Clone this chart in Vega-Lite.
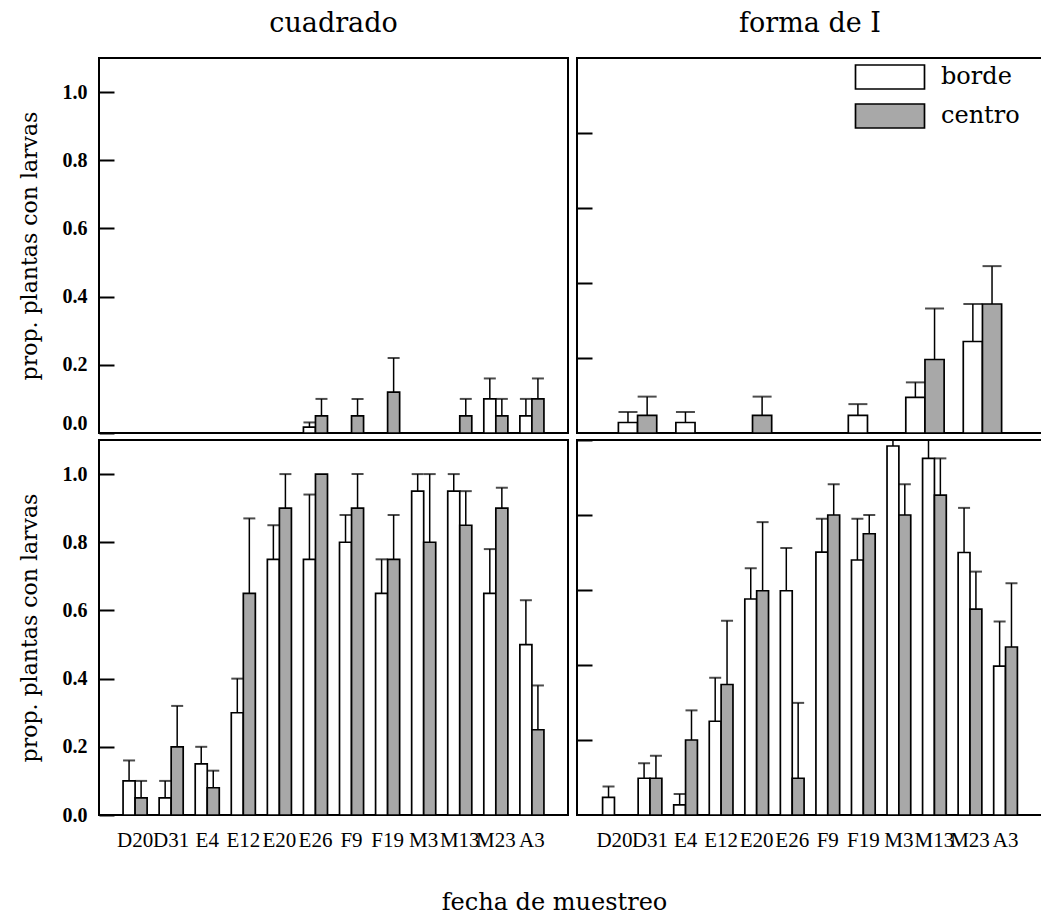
{
  "$schema": "https://vega.github.io/schema/vega-lite/v6.json",
  "background": "white",
  "padding": {"left": 17, "top": 9, "right": 0, "bottom": 0},
  "config": {
    "view": {"stroke": "black", "strokeWidth": 2},
    "font": "DejaVu Serif",
    "axis": {"domain": false, "grid": false, "labelColor": "black", "titleColor": "black", "tickColor": "black"}
  },
  "title": {"text": "fecha de muestreo", "orient": "bottom", "anchor": "middle", "font": "DejaVu Serif", "fontSize": 24, "fontWeight": "normal", "color": "black", "offset": 40, "dx": 24},
  "datasets": {
    "d": [
      {"forma": "cuadrado", "fila": "a", "fecha": "E26", "tipo": "borde", "prop": 0.017, "sup": 0.031},
      {"forma": "cuadrado", "fila": "a", "fecha": "E26", "tipo": "centro", "prop": 0.05, "sup": 0.10},
      {"forma": "cuadrado", "fila": "a", "fecha": "F9", "tipo": "centro", "prop": 0.05, "sup": 0.10},
      {"forma": "cuadrado", "fila": "a", "fecha": "F19", "tipo": "centro", "prop": 0.12, "sup": 0.22},
      {"forma": "cuadrado", "fila": "a", "fecha": "M13", "tipo": "centro", "prop": 0.05, "sup": 0.10},
      {"forma": "cuadrado", "fila": "a", "fecha": "M23", "tipo": "borde", "prop": 0.10, "sup": 0.16},
      {"forma": "cuadrado", "fila": "a", "fecha": "M23", "tipo": "centro", "prop": 0.05, "sup": 0.10},
      {"forma": "cuadrado", "fila": "a", "fecha": "A3", "tipo": "borde", "prop": 0.05, "sup": 0.10},
      {"forma": "cuadrado", "fila": "a", "fecha": "A3", "tipo": "centro", "prop": 0.10, "sup": 0.16},

      {"forma": "forma de I", "fila": "a", "fecha": "1", "tipo": "borde", "prop": 0.028, "sup": 0.056},
      {"forma": "forma de I", "fila": "a", "fecha": "1", "tipo": "centro", "prop": 0.047, "sup": 0.097},
      {"forma": "forma de I", "fila": "a", "fecha": "2", "tipo": "borde", "prop": 0.028, "sup": 0.056},
      {"forma": "forma de I", "fila": "a", "fecha": "3", "tipo": "centro", "prop": 0.047, "sup": 0.097},
      {"forma": "forma de I", "fila": "a", "fecha": "5", "tipo": "borde", "prop": 0.047, "sup": 0.077},
      {"forma": "forma de I", "fila": "a", "fecha": "6", "tipo": "borde", "prop": 0.095, "sup": 0.135},
      {"forma": "forma de I", "fila": "a", "fecha": "6", "tipo": "centro", "prop": 0.196, "sup": 0.332},
      {"forma": "forma de I", "fila": "a", "fecha": "7", "tipo": "borde", "prop": 0.244, "sup": 0.344},
      {"forma": "forma de I", "fila": "a", "fecha": "7", "tipo": "centro", "prop": 0.344, "sup": 0.445},

      {"forma": "cuadrado", "fila": "b", "fecha": "D20", "tipo": "borde", "prop": 0.10, "sup": 0.16},
      {"forma": "cuadrado", "fila": "b", "fecha": "D20", "tipo": "centro", "prop": 0.05, "sup": 0.10},
      {"forma": "cuadrado", "fila": "b", "fecha": "D31", "tipo": "borde", "prop": 0.05, "sup": 0.10},
      {"forma": "cuadrado", "fila": "b", "fecha": "D31", "tipo": "centro", "prop": 0.20, "sup": 0.32},
      {"forma": "cuadrado", "fila": "b", "fecha": "E4", "tipo": "borde", "prop": 0.15, "sup": 0.20},
      {"forma": "cuadrado", "fila": "b", "fecha": "E4", "tipo": "centro", "prop": 0.08, "sup": 0.13},
      {"forma": "cuadrado", "fila": "b", "fecha": "E12", "tipo": "borde", "prop": 0.30, "sup": 0.40},
      {"forma": "cuadrado", "fila": "b", "fecha": "E12", "tipo": "centro", "prop": 0.65, "sup": 0.87},
      {"forma": "cuadrado", "fila": "b", "fecha": "E20", "tipo": "borde", "prop": 0.75, "sup": 0.85},
      {"forma": "cuadrado", "fila": "b", "fecha": "E20", "tipo": "centro", "prop": 0.90, "sup": 1.0},
      {"forma": "cuadrado", "fila": "b", "fecha": "E26", "tipo": "borde", "prop": 0.75, "sup": 0.94},
      {"forma": "cuadrado", "fila": "b", "fecha": "E26", "tipo": "centro", "prop": 1.0, "sup": null},
      {"forma": "cuadrado", "fila": "b", "fecha": "F9", "tipo": "borde", "prop": 0.80, "sup": 0.88},
      {"forma": "cuadrado", "fila": "b", "fecha": "F9", "tipo": "centro", "prop": 0.90, "sup": 1.0},
      {"forma": "cuadrado", "fila": "b", "fecha": "F19", "tipo": "borde", "prop": 0.65, "sup": 0.75},
      {"forma": "cuadrado", "fila": "b", "fecha": "F19", "tipo": "centro", "prop": 0.75, "sup": 0.88},
      {"forma": "cuadrado", "fila": "b", "fecha": "M3", "tipo": "borde", "prop": 0.95, "sup": 1.0},
      {"forma": "cuadrado", "fila": "b", "fecha": "M3", "tipo": "centro", "prop": 0.80, "sup": 1.0},
      {"forma": "cuadrado", "fila": "b", "fecha": "M13", "tipo": "borde", "prop": 0.95, "sup": 1.0},
      {"forma": "cuadrado", "fila": "b", "fecha": "M13", "tipo": "centro", "prop": 0.85, "sup": 0.95},
      {"forma": "cuadrado", "fila": "b", "fecha": "M23", "tipo": "borde", "prop": 0.65, "sup": 0.78},
      {"forma": "cuadrado", "fila": "b", "fecha": "M23", "tipo": "centro", "prop": 0.90, "sup": 0.96},
      {"forma": "cuadrado", "fila": "b", "fecha": "A3", "tipo": "borde", "prop": 0.50, "sup": 0.63},
      {"forma": "cuadrado", "fila": "b", "fecha": "A3", "tipo": "centro", "prop": 0.25, "sup": 0.38},

      {"forma": "forma de I", "fila": "b", "fecha": "D20", "tipo": "borde", "prop": 0.047, "sup": 0.076},
      {"forma": "forma de I", "fila": "b", "fecha": "D31", "tipo": "borde", "prop": 0.098, "sup": 0.138},
      {"forma": "forma de I", "fila": "b", "fecha": "D31", "tipo": "centro", "prop": 0.098, "sup": 0.158},
      {"forma": "forma de I", "fila": "b", "fecha": "E4", "tipo": "borde", "prop": 0.027, "sup": 0.056},
      {"forma": "forma de I", "fila": "b", "fecha": "E4", "tipo": "centro", "prop": 0.20, "sup": 0.279},
      {"forma": "forma de I", "fila": "b", "fecha": "E12", "tipo": "borde", "prop": 0.25, "sup": 0.366},
      {"forma": "forma de I", "fila": "b", "fecha": "E12", "tipo": "centro", "prop": 0.348, "sup": 0.518},
      {"forma": "forma de I", "fila": "b", "fecha": "E20", "tipo": "borde", "prop": 0.576, "sup": 0.658},
      {"forma": "forma de I", "fila": "b", "fecha": "E20", "tipo": "centro", "prop": 0.598, "sup": 0.781},
      {"forma": "forma de I", "fila": "b", "fecha": "E26", "tipo": "borde", "prop": 0.598, "sup": 0.712},
      {"forma": "forma de I", "fila": "b", "fecha": "E26", "tipo": "centro", "prop": 0.098, "sup": 0.299},
      {"forma": "forma de I", "fila": "b", "fecha": "F9", "tipo": "borde", "prop": 0.701, "sup": 0.79},
      {"forma": "forma de I", "fila": "b", "fecha": "F9", "tipo": "centro", "prop": 0.80, "sup": 0.882},
      {"forma": "forma de I", "fila": "b", "fecha": "F19", "tipo": "borde", "prop": 0.68, "sup": 0.79},
      {"forma": "forma de I", "fila": "b", "fecha": "F19", "tipo": "centro", "prop": 0.75, "sup": 0.80},
      {"forma": "forma de I", "fila": "b", "fecha": "M3", "tipo": "borde", "prop": 0.984, "sup": 1.0},
      {"forma": "forma de I", "fila": "b", "fecha": "M3", "tipo": "centro", "prop": 0.80, "sup": 0.882},
      {"forma": "forma de I", "fila": "b", "fecha": "M13", "tipo": "borde", "prop": 0.951, "sup": 1.0},
      {"forma": "forma de I", "fila": "b", "fecha": "M13", "tipo": "centro", "prop": 0.853, "sup": 0.951},
      {"forma": "forma de I", "fila": "b", "fecha": "M23", "tipo": "borde", "prop": 0.70, "sup": 0.819},
      {"forma": "forma de I", "fila": "b", "fecha": "M23", "tipo": "centro", "prop": 0.549, "sup": 0.649},
      {"forma": "forma de I", "fila": "b", "fecha": "A3", "tipo": "borde", "prop": 0.397, "sup": 0.516},
      {"forma": "forma de I", "fila": "b", "fecha": "A3", "tipo": "centro", "prop": 0.448, "sup": 0.618}
    ]
  },
  "spacing": 3,
  "resolve": {"scale": {"x": "independent", "y": "independent", "xOffset": "independent", "fill": "independent"}, "axis": {"x": "independent", "y": "independent"}, "legend": {"fill": "independent"}},
  "vconcat": [
    {
      "spacing": 9,
      "bounds": "flush",
      "resolve": {"scale": {"x": "independent", "y": "independent", "xOffset": "independent", "fill": "independent"}, "axis": {"x": "independent", "y": "independent"}, "legend": {"fill": "independent"}},
      "hconcat": [
        {
          "width": 469, "height": 375,
          "title": {"text": "cuadrado", "font": "DejaVu Serif", "fontSize": 27, "fontWeight": "normal", "color": "black", "offset": 20},
          "data": {"name": "d"},
          "transform": [{"filter": "datum.forma == 'cuadrado' && datum.fila == 'a'"}],
          "encoding": {
            "x": {"field": "fecha", "type": "nominal", "sort": ["D20","D31","E4","E12","E20","E26","F9","F19","M3","M13","M23","A3"], "scale": {"domain": ["D20","D31","E4","E12","E20","E26","F9","F19","M3","M13","M23","A3"], "paddingInner": 0.333, "paddingOuter": 0.667}, "axis": null},
            "xOffset": {"field": "tipo", "type": "nominal", "scale": {"domain": ["borde","centro"], "paddingInner": 0, "paddingOuter": 0}}
          },
          "layer": [
            {
              "mark": {"type": "bar", "stroke": "black", "strokeWidth": 1.7},
              "encoding": {
                "y": {"field": "prop", "type": "quantitative", "scale": {"domain": [0, 1.1], "nice": false}, "axis": {"values": [0,0.2,0.4,0.6,0.8,1.0], "format": ".1f", "tickSize": -15, "tickWidth": 2, "labelFont": "Liberation Serif", "labelFontSize": 20, "labelFontWeight": "bold", "labelPadding": 27, "labelFlush": true, "labelBound": false, "title": "prop. plantas con larvas", "titleFont": "DejaVu Serif", "titleFontSize": 22, "titleFontWeight": "normal", "titlePadding": 21}},
                "fill": {"field": "tipo", "type": "nominal", "scale": {"domain": ["borde","centro"], "range": ["white", "#a8a8a8"]}, "legend": null}
              }
            },
            {
              "transform": [{"filter": "datum.sup != null"}],
              "mark": {"type": "rule", "color": "black", "strokeWidth": 1.5},
              "encoding": {"y": {"field": "prop", "type": "quantitative"}, "y2": {"field": "sup"}}
            },
            {
              "transform": [{"filter": "datum.sup != null"}],
              "mark": {"type": "tick", "color": "black", "thickness": 2, "size": 12, "orient": "horizontal"},
              "encoding": {"y": {"field": "sup", "type": "quantitative"}}
            }
          ]
        },
        {
          "width": 466, "height": 375,
          "title": {"text": "forma de I", "font": "DejaVu Serif", "fontSize": 27, "fontWeight": "normal", "color": "black", "offset": 20},
          "data": {"name": "d"},
          "transform": [{"filter": "datum.forma == 'forma de I' && datum.fila == 'a'"}],
          "encoding": {
            "x": {"field": "fecha", "type": "nominal", "sort": ["1","2","3","4","5","6","7"], "scale": {"domain": ["1","2","3","4","5","6","7"], "paddingInner": 0.333, "paddingOuter": 0.72}, "axis": null},
            "xOffset": {"field": "tipo", "type": "nominal", "scale": {"domain": ["borde","centro"], "paddingInner": 0, "paddingOuter": 0}}
          },
          "layer": [
            {
              "mark": {"type": "bar", "stroke": "black", "strokeWidth": 1.7},
              "encoding": {
                "y": {"field": "prop", "type": "quantitative", "scale": {"domain": [0, 1.0], "nice": false}, "axis": {"values": [0.2,0.4,0.6,0.8], "labels": false, "tickSize": -15, "tickWidth": 2, "title": null}},
                "fill": {"field": "tipo", "type": "nominal", "scale": {"domain": ["borde","centro"], "range": ["white", "#a8a8a8"]}, "legend": {"orient": "none", "legendX": 294, "legendY": 0, "title": null, "padding": 0, "symbolType": "M-1.9167,-0.6667L1.9167,-0.6667L1.9167,0.6667L-1.9167,0.6667Z", "symbolSize": 1296, "symbolStrokeColor": "black", "symbolStrokeWidth": 1.7, "symbolOffset": 0, "labelFont": "DejaVu Serif", "labelFontSize": 24, "labelColor": "black", "labelOffset": 32, "rowPadding": 4}}
              }
            },
            {
              "transform": [{"filter": "datum.sup != null"}],
              "mark": {"type": "rule", "color": "black", "strokeWidth": 1.5},
              "encoding": {"y": {"field": "prop", "type": "quantitative"}, "y2": {"field": "sup"}}
            },
            {
              "transform": [{"filter": "datum.sup != null"}],
              "mark": {"type": "tick", "color": "black", "thickness": 2, "size": 19, "orient": "horizontal"},
              "encoding": {"y": {"field": "sup", "type": "quantitative"}}
            }
          ]
        }
      ]
    },
    {
      "spacing": 9,
      "bounds": "flush",
      "resolve": {"scale": {"x": "independent", "y": "independent", "xOffset": "independent", "fill": "independent"}, "axis": {"x": "independent", "y": "independent"}, "legend": {"fill": "independent"}},
      "hconcat": [
        {
          "width": 469, "height": 375,
          "data": {"name": "d"},
          "transform": [{"filter": "datum.forma == 'cuadrado' && datum.fila == 'b'"}],
          "encoding": {
            "x": {"field": "fecha", "type": "nominal", "sort": ["D20","D31","E4","E12","E20","E26","F9","F19","M3","M13","M23","A3"], "scale": {"domain": ["D20","D31","E4","E12","E20","E26","F9","F19","M3","M13","M23","A3"], "paddingInner": 0.333, "paddingOuter": 0.667}, "axis": {"title": null, "ticks": false, "labelAngle": 0, "labelFont": "Liberation Serif", "labelFontSize": 21, "labelPadding": 14, "labelOverlap": false, "labelBound": false, "labelLimit": 0}},
            "xOffset": {"field": "tipo", "type": "nominal", "scale": {"domain": ["borde","centro"], "paddingInner": 0, "paddingOuter": 0}}
          },
          "layer": [
            {
              "mark": {"type": "bar", "stroke": "black", "strokeWidth": 1.7},
              "encoding": {
                "y": {"field": "prop", "type": "quantitative", "scale": {"domain": [0, 1.1], "nice": false}, "axis": {"values": [0,0.2,0.4,0.6,0.8,1.0], "format": ".1f", "tickSize": -15, "tickWidth": 2, "labelFont": "Liberation Serif", "labelFontSize": 20, "labelFontWeight": "bold", "labelPadding": 27, "labelFlush": false, "labelBound": false, "title": "prop. plantas con  larvas", "titleFont": "DejaVu Serif", "titleFontSize": 22, "titleFontWeight": "normal", "titlePadding": 21}},
                "fill": {"field": "tipo", "type": "nominal", "scale": {"domain": ["borde","centro"], "range": ["white", "#a8a8a8"]}, "legend": null}
              }
            },
            {
              "transform": [{"filter": "datum.sup != null"}],
              "mark": {"type": "rule", "color": "black", "strokeWidth": 1.5},
              "encoding": {"y": {"field": "prop", "type": "quantitative"}, "y2": {"field": "sup"}}
            },
            {
              "transform": [{"filter": "datum.sup != null"}],
              "mark": {"type": "tick", "color": "black", "thickness": 2, "size": 12, "orient": "horizontal"},
              "encoding": {"y": {"field": "sup", "type": "quantitative"}}
            }
          ]
        },
        {
          "width": 466, "height": 375,
          "data": {"name": "d"},
          "transform": [{"filter": "datum.forma == 'forma de I' && datum.fila == 'b'"}],
          "encoding": {
            "x": {"field": "fecha", "type": "nominal", "sort": ["D20","D31","E4","E12","E20","E26","F9","F19","M3","M13","M23","A3"], "scale": {"domain": ["D20","D31","E4","E12","E20","E26","F9","F19","M3","M13","M23","A3"], "paddingInner": 0.333, "paddingOuter": 0.72}, "axis": {"title": null, "ticks": false, "labelAngle": 0, "labelFont": "Liberation Serif", "labelFontSize": 21, "labelPadding": 14, "labelOverlap": false, "labelBound": false, "labelLimit": 0}},
            "xOffset": {"field": "tipo", "type": "nominal", "scale": {"domain": ["borde","centro"], "paddingInner": 0, "paddingOuter": 0}}
          },
          "layer": [
            {
              "mark": {"type": "bar", "stroke": "black", "strokeWidth": 1.7},
              "encoding": {
                "y": {"field": "prop", "type": "quantitative", "scale": {"domain": [0, 1.0], "nice": false}, "axis": {"values": [0.2,0.4,0.6,0.8,1.0], "labels": false, "tickSize": -15, "tickWidth": 2, "title": null}},
                "fill": {"field": "tipo", "type": "nominal", "scale": {"domain": ["borde","centro"], "range": ["white", "#a8a8a8"]}, "legend": null}
              }
            },
            {
              "transform": [{"filter": "datum.sup != null"}],
              "mark": {"type": "rule", "color": "black", "strokeWidth": 1.5},
              "encoding": {"y": {"field": "prop", "type": "quantitative"}, "y2": {"field": "sup"}}
            },
            {
              "transform": [{"filter": "datum.sup != null"}],
              "mark": {"type": "tick", "color": "black", "thickness": 2, "size": 12, "orient": "horizontal"},
              "encoding": {"y": {"field": "sup", "type": "quantitative"}}
            }
          ]
        }
      ]
    }
  ]
}
